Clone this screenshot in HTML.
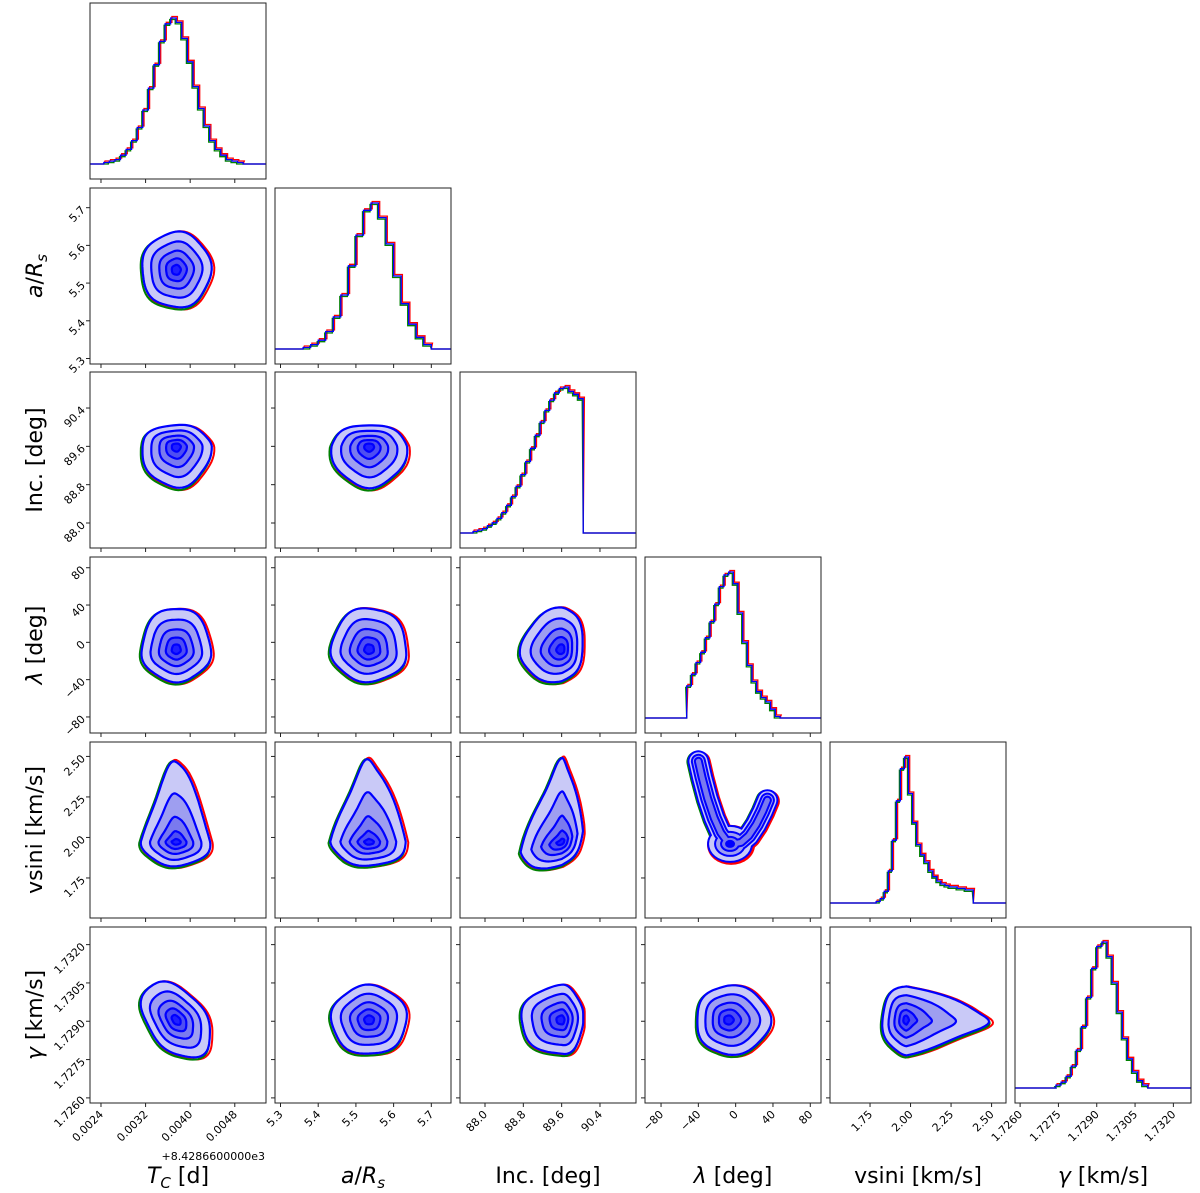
<!DOCTYPE html>
<html><head><meta charset="utf-8"><style>
html,body{margin:0;padding:0;background:#fff;}
svg{display:block;font-family:"DejaVu Sans","Liberation Sans",sans-serif;}
</style></head><body>
<svg id="chart" width="1200" height="1193" viewBox="0 0 1200 1193" xmlns="http://www.w3.org/2000/svg">
<defs id="defs"></defs>
<g id="root"></g>
</svg>
<script>
// ---- data ----
const varNames = ["Tc","aRs","Inc","lambda","vsini","gamma"];
const tcTicks = [0.0024,0.0032,0.0040,0.0048];
const tcTickLabels = ["0.0024","0.0032","0.0040","0.0048"];
const aTicks = [5.3,5.4,5.5,5.6,5.7];
const aTickLabels = ["5.3","5.4","5.5","5.6","5.7"];
const incTicks = [88.0,88.8,89.6,90.4];
const incTickLabels = ["88.0","88.8","89.6","90.4"];
const lamTicks = [-80,-40,0,40,80];
const lamTickLabels = ["\u221280","\u221240","0","40","80"];
const vsTicks = [1.75,2.00,2.25,2.50];
const vsTickLabels = ["1.75","2.00","2.25","2.50"];
const gTicks = [1.7260,1.7275,1.7290,1.7305,1.7320];
const gTickLabels = ["1.7260","1.7275","1.7290","1.7305","1.7320"];

// histogram bins (start, width, counts relative to peak 100)
const tcBinStart = 0.00245, tcBinWidth = 0.0001;
const tcCounts = [1,2,3,6,10,16,25,37,52,68,84,96,100,97,86,70,53,38,26,16,10,6,3,2,1];
const aBinStart = 5.36, aBinWidth = 0.02;
const aCounts = [1,3,6,12,22,37,57,78,95,100,90,72,50,31,17,8,3];
const incBinStart = 87.75, incBinWidth = 0.1;
const incCounts = [1,2,3,5,7,10,14,19,25,32,40,49,58,67,76,84,91,96,99,100,97,95,92];
const lamBinStart = -52.5, lamBinWidth = 5;
const lamCounts = [22,30,38,45,55,66,78,90,98,100,92,72,52,36,25,18,14,11,6,1];
const vsBinStart = 1.7875, vsBinWidth = 0.025;
const vsCounts = [1,3,8,22,43,70,92,100,75,55,40,33,28,22,18,15,13,12,11,11,10,10,9,9];
const gBinStart = 1.7274, gBinWidth = 0.0002;
const gCounts = [2,4,8,15,26,42,62,82,97,100,90,72,52,34,20,11,5,2];

// 2D summaries: mode and outer contour half-extents (low side / high side)
const modes = [0.00375, 5.535, 89.6, -8, 1.975, 1.72905];
const halfLow = [0.00062, 0.10, 0.85, 34, 0.15, 0.00135];
const halfHigh = [0.00062, 0.10, 0.45, 45, 0.50, 0.00135];
// correlations for pairs [row, col, rho]
const pairRho = [[5,0,-0.45],[3,2,0.1],[4,2,0.2],[5,4,0.0]];
// banana ridge for lambda vs vsini
const ridgeLam = [-40,-36,-30,-23,-16,-9,-2,6,14,22,29,34];
const ridgeVs = [2.47,2.37,2.24,2.12,2.03,1.975,1.96,1.97,2.01,2.08,2.16,2.23];
const bananaCoreLam = -6, bananaCoreVs = 1.96;

// ---- layout ----
const S = 176;
const colX = [90,275,460,645,830,1015];
const rowY = [3,188,372,557,742,927];
const lo = [0.002203, 5.2854, 87.478, -97.2, 1.503, 1.72580];
const hi = [0.005360, 5.7522, 91.152, 91.5, 2.589, 1.73269];
const ticks = [tcTicks,aTicks,incTicks,lamTicks,vsTicks,gTicks];
const tickLabels = [tcTickLabels,aTickLabels,incTickLabels,lamTickLabels,vsTickLabels,gTickLabels];
const hists = [[tcBinStart,tcBinWidth,tcCounts],[aBinStart,aBinWidth,aCounts],[incBinStart,incBinWidth,incCounts],[lamBinStart,lamBinWidth,lamCounts],[vsBinStart,vsBinWidth,vsCounts],[gBinStart,gBinWidth,gCounts]];

const NS = "http://www.w3.org/2000/svg";
const root = document.getElementById('root');
const defs = document.getElementById('defs');
function mk(tag, attrs, parent){const e=document.createElementNS(NS,tag);for(const k in attrs)e.setAttribute(k,attrs[k]);(parent||root).appendChild(e);return e;}
function xp(j,v){return colX[j]+(v-lo[j])/(hi[j]-lo[j])*S;}
function yp(i,v){return rowY[i]+(hi[i]-v)/(hi[i]-lo[i])*S;}

const levelK = [1,0.74,0.5,0.3,0.13];
const levelFill = ['#c9c9f7','#9e9ef0','#7a7aee','#4e4ef2','#1f1fff'];

function shapePath(i,j,k,scale,dx,dy){
  let rho=0; pairRho.forEach(p=>{if(p[0]===i&&p[1]===j)rho=p[2];});
  let d='';
  for(let n=0;n<=72;n++){
    const t=n/72*2*Math.PI, u=Math.cos(t), v=Math.sin(t);
    const kx = (u>0 && halfHigh[j]>halfLow[j]*2) ? Math.pow(k,1.7) : k;
    const ky = (v>0 && halfHigh[i]>halfLow[i]*2) ? Math.pow(k,1.7) : k;
    let hx=(u<0?halfLow[j]:halfHigh[j])*kx*scale;
    let hy=(v<0?halfLow[i]:halfHigh[i])*ky*scale;
    if(i===4 && v>0) hx *= (1-0.55*v);
    if(j===4 && u>0) hy *= (1-0.5*u);
    const wob=1+0.03*Math.sin(5*t+i+j);
    let X=modes[j]+u*hx*wob;
    let Y=modes[i]+v*hy*wob + rho*u*k*scale*(halfLow[i]+halfHigh[i])/2;
    if(j===2) X=Math.min(X,90.05);
    d+=(n?'L':'M')+(xp(j,X)+dx).toFixed(1)+','+(yp(i,Y)+dy).toFixed(1);
  }
  return d+'Z';
}

for(let i=0;i<6;i++){
  for(let j=0;j<=i;j++){
    const g=mk('g',{});
    
    
    const cid='clip'+i+'_'+j;
    const cp=mk('clipPath',{id:cid},defs);
    mk('rect',{x:colX[j],y:rowY[i],width:S,height:S},cp);
    const inner=mk('g',{'clip-path':'url(#'+cid+')'},g);
    if(i===j){
      const [st,w,c]=hists[j];
      const base=rowY[i]+161;
      const cols=[['#ff0000',1.2,-1.5],['#008000',-1,1.5],['#0000ff',0,0]];
      cols.forEach(cc=>{
        let d='M'+colX[j]+','+base+'L'+xp(j,st)+','+base;
        for(let b=0;b<c.length;b++){
          const y=base-c[b]/100*146+cc[2];
          d+='L'+(xp(j,st+b*w)+cc[1]).toFixed(1)+','+y.toFixed(1)+'L'+(xp(j,st+(b+1)*w)+cc[1]).toFixed(1)+','+y.toFixed(1);
        }
        d+='L'+xp(j,st+c.length*w).toFixed(1)+','+base+'L'+(colX[j]+S)+','+base;
        const p=mk('path',{d:d,fill:'none',stroke:cc[0],'stroke-width':1.3},inner);
        
        
      });
    } else if(i===4&&j===3){
      let d='';
      ridgeLam.forEach((l,n)=>{d+=(n?'L':'M')+xp(j,l).toFixed(1)+','+yp(i,ridgeVs[n]).toFixed(1);});
      const cx=xp(j,bananaCoreLam), cy=yp(i,bananaCoreVs);
      const widths=[18,11,5];
      const rxs=[21,14,8], rys=[17,11,6];
      const rc='stroke-linecap="round"';
      mk('path',{d:d,fill:'none',stroke:'#ff0000','stroke-width':22,'stroke-linecap':'round','stroke-linejoin':'round',transform:'translate(1.5,1)'},inner);
      mk('path',{d:d,fill:'none',stroke:'#008000','stroke-width':22,'stroke-linecap':'round','stroke-linejoin':'round',transform:'translate(-1,0.5)'},inner);
      mk('ellipse',{cx:cx+1,cy:cy+1,rx:rxs[0]+3,ry:rys[0]+3,fill:'#ff0000'},inner);
      widths.forEach((w,n)=>{
        mk('path',{d:d,fill:'none',stroke:'#0000ff','stroke-width':w+4,'stroke-linecap':'round','stroke-linejoin':'round'},inner);
        mk('ellipse',{cx:cx,cy:cy,rx:rxs[n]+2,ry:rys[n]+2,fill:'#0000ff'},inner);
        const p=mk('path',{d:d,fill:'none',stroke:levelFill[n],'stroke-width':w,'stroke-linecap':'round','stroke-linejoin':'round'},inner);
        
        
        mk('ellipse',{cx:cx,cy:cy,rx:rxs[n],ry:rys[n],fill:levelFill[n]},inner);
      });
      mk('ellipse',{cx:cx,cy:cy,rx:5,ry:4,fill:'#0000ff'},inner);
    } else {
      mk('path',{d:shapePath(i,j,1,1.03,1.5,1),fill:'none',stroke:'#ff0000','stroke-width':2},inner);
      mk('path',{d:shapePath(i,j,1,1.02,-1,1.5),fill:'none',stroke:'#008000','stroke-width':2},inner);
      levelK.forEach((k,n)=>{
        const p=mk('path',{d:shapePath(i,j,k,1,0,0),fill:levelFill[n],stroke:'#0000ff','stroke-width':2.2},inner);
        
        
      });
    }
    const fr=mk('rect',{x:colX[j],y:rowY[i],width:S,height:S,fill:'none',stroke:'#222','stroke-width':1},g);
    
    
    ticks[j].forEach((t,n)=>{
      const x=xp(j,t); const yb=rowY[i]+S;
      mk('line',{x1:x,x2:x,y1:yb,y2:yb+4,stroke:'#222','stroke-width':1},g);
      if(i===5){
        const tx=mk('text',{x:x+3,y:yb+12,'font-size':11,'text-anchor':'end',fill:'#000',transform:'rotate(-45 '+(x+3)+' '+(yb+12)+')'},g);
        tx.textContent=tickLabels[j][n];
        
        
      }
    });
    if(i!==j){
      ticks[i].forEach((t,n)=>{
        const y=yp(i,t); const xl=colX[j];
        mk('line',{x1:xl-4,x2:xl,y1:y,y2:y,stroke:'#222','stroke-width':1},g);
        if(j===0){
          const tx=mk('text',{x:xl-7,y:y+4,'font-size':11,'text-anchor':'end',fill:'#000',transform:'rotate(-45 '+(xl-7)+' '+(y)+')'},g);
          tx.textContent=tickLabels[i][n];
          
          
        }
      });
    }
  }
}

const svg=document.getElementById('chart');
function lab(txt,x,y,rot,name){const t=document.createElementNS(NS,'text');t.setAttribute('x',x);t.setAttribute('y',y);t.setAttribute('font-size','22');t.setAttribute('text-anchor','middle');if(rot)t.setAttribute('transform','rotate(-90 '+x+' '+y+')');t.innerHTML=txt;


svg.appendChild(t);}
lab('<tspan font-style="italic">T</tspan><tspan font-style="italic" font-size="15" dy="5">C</tspan><tspan dy="-5"> [d]</tspan>',178,1183,false,'x-axis-title-tc');
lab('<tspan font-style="italic">a</tspan>/<tspan font-style="italic">R</tspan><tspan font-style="italic" font-size="15" dy="5">s</tspan>',363,1183,false,'x-axis-title-ars');
lab('Inc. [deg]',548,1183,false,'x-axis-title-inc');
lab('<tspan font-style="italic">λ</tspan> [deg]',733,1183,false,'x-axis-title-lambda');
lab('vsini [km/s]',918,1183,false,'x-axis-title-vsini');
lab('<tspan font-style="italic">γ</tspan> [km/s]',1103,1183,false,'x-axis-title-gamma');
lab('<tspan font-style="italic">a</tspan>/<tspan font-style="italic">R</tspan><tspan font-style="italic" font-size="15" dy="5">s</tspan>',42,276,true,'y-axis-title-ars');
lab('Inc. [deg]',42,460,true,'y-axis-title-inc');
lab('<tspan font-style="italic">λ</tspan> [deg]',42,645,true,'y-axis-title-lambda');
lab('vsini [km/s]',42,830,true,'y-axis-title-vsini');
lab('<tspan font-style="italic">γ</tspan> [km/s]',42,1015,true,'y-axis-title-gamma');
const off=document.createElementNS(NS,'text');
off.setAttribute('x','265');off.setAttribute('y','1160');off.setAttribute('font-size','11');off.setAttribute('text-anchor','end');
off.textContent='+8.4286600000e3';


svg.appendChild(off);
</script>
</body></html>
